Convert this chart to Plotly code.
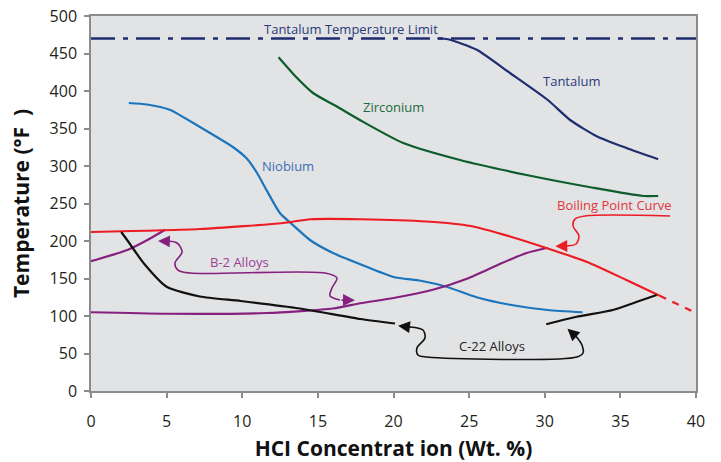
import plotly.graph_objects as go

# ---- data ----
tantalum_x = [22.9, 23.6, 25.5, 27.7, 30.2, 31.7, 33.5, 35.4, 37.5]
tantalum_y = [470, 469, 455, 424, 388, 361, 339, 324, 309]

zirconium_x = [12.4, 13.5, 14.7, 16.2, 17.8, 20.6, 24.4, 28.8, 33.2, 36.5, 37.5]
zirconium_y = [445, 420, 397, 380, 361, 331, 308, 288, 271, 260, 260]

niobium_x = [2.5, 3.7, 5.2, 7.2, 9.4, 10.3, 11.0, 11.6, 12.5, 13.2, 14.5, 16.0, 17.8, 20.0, 21.8, 23.5, 25.5, 27.7, 30.2, 32.5]
niobium_y = [384, 382, 375, 352, 325, 310, 290, 268, 237, 224, 201, 184, 169, 152, 147, 139, 125, 115, 108, 105]

boiling_x = [0, 7.2, 12.7, 14.5, 17.8, 22.2, 25.1, 27.7, 30.2, 32.8, 35.4, 37.6]
boiling_y = [212, 216, 224, 229, 229, 226, 220, 206, 190, 172, 148, 127]
boiling_ext_x = [37.6, 40.0]
boiling_ext_y = [127, 104]

c22_low_x = [2.0, 2.4, 3.5, 5.0, 7.2, 9.9, 13.8, 17.8, 20.1]
c22_low_y = [212, 201, 170, 139, 126, 120, 110, 96, 90]
c22_high_x = [30.1, 32.1, 34.5, 36.1, 37.4]
c22_high_y = [89, 99, 108, 119, 128]

b2_low_x = [0, 5.0, 11.6, 16.0, 17.8, 20.0, 22.6, 24.9, 27.1, 28.8, 30.2]
b2_low_y = [105, 103, 104, 110, 117, 124, 135, 150, 170, 184, 191]
b2_high_x = [0, 2.4, 3.7, 4.9]
b2_high_y = [173, 188, 201, 215]

ta_limit = 470

x_ticks = [0, 5, 10, 15, 20, 25, 30, 35, 40]
y_ticks = [0, 50, 100, 150, 200, 250, 300, 350, 400, 450, 500]

# connector paths for the callouts (data coordinates)
b2_path_x = [4.96, 5.69, 6.02, 5.55, 5.75, 6.55, 15.47, 16.26, 15.93, 15.80, 16.46]
b2_path_y = [200, 197.3, 185.3, 170.7, 161.3, 157.3, 157.3, 150.7, 137.3, 126.7, 121.3]
c22_path_x = [21.09, 21.95, 22.08, 21.55, 21.62, 22.21, 32.13, 32.53, 32.46, 32.0]
c22_path_y = [85.3, 81.3, 70.7, 57.3, 48, 45.3, 45.3, 50.7, 61.3, 74.7]
bp_path_x = [38.28, 32.66, 32.0, 31.87, 32.26, 32.07, 31.34]
bp_path_y = [233.3, 233.3, 229.3, 220, 206.7, 196, 193.3]

NAVY = "#1f2d6e"
GREEN = "#0d5c2c"
BLUE = "#1b75bc"
RED = "#ed1c24"
PURPLE = "#86207f"
BLACK = "#111111"

fig = go.Figure()

def line(x, y, color, width=2.2, dash=None, shape="spline", smoothing=0.6):
    fig.add_trace(go.Scatter(x=x, y=y, mode="lines",
                             line=dict(color=color, width=width, dash=dash, shape=shape, smoothing=smoothing),
                             hoverinfo="skip", showlegend=False))

# tantalum limit
line([0, 40], [ta_limit, ta_limit], NAVY, width=2.4, dash="24px,8px,5px,8px", shape="linear")
line(tantalum_x, tantalum_y, NAVY)
line(zirconium_x, zirconium_y, GREEN)
line(niobium_x, niobium_y, BLUE)
line(b2_low_x, b2_low_y, PURPLE)
line(b2_high_x, b2_high_y, PURPLE)
line(boiling_x, boiling_y, RED)
line(boiling_ext_x, boiling_ext_y, RED, dash="7px,7px", shape="linear")
line(c22_low_x, c22_low_y, BLACK)
line(c22_high_x, c22_high_y, BLACK)

# callout connectors
line(b2_path_x, b2_path_y, PURPLE, width=1.6, smoothing=0.9)
line(c22_path_x, c22_path_y, BLACK, width=1.6, smoothing=0.9)
line(bp_path_x, bp_path_y, RED, width=1.6, smoothing=0.9)

def arrow(x, y, ax, ay, color):
    fig.add_annotation(x=x, y=y, ax=ax, ay=ay, xref="x", yref="y", axref="x", ayref="y",
                       text="", showarrow=True, arrowhead=2, arrowsize=1.4, arrowwidth=1.7,
                       arrowcolor=color)

arrow(4.43, 200, 5.22, 199.5, PURPLE)
arrow(17.45, 121, 16.46, 121.3, PURPLE)
arrow(20.3, 87, 21.2, 84.8, BLACK)
arrow(31.5, 83, 32.05, 73, BLACK)
arrow(30.7, 193, 31.5, 193.3, RED)

def label(x, y, text, color, size=13):
    fig.add_annotation(x=x, y=y, xref="x", yref="y", text=text, showarrow=False,
                       font=dict(family="Open Sans", size=size, color=color))

label(17.19, 482.7, "Tantalum Temperature Limit", "#2b3a7a")
label(31.8, 413.3, "Tantalum", "#2b3a7a")
label(19.97, 378.7, "Zirconium", "#1d6b3a")
label(13.02, 300, "Niobium", "#3b6fb6")
label(34.58, 248, "Boiling Point Curve", "#e2363c")
label(9.85, 172, "B-2 Alloys", "#9b3f96")
label(26.5, 60, "C-22 Alloys", "#222222")

axis_common = dict(showgrid=False, zeroline=False, showline=True, linecolor="#8c8c8c", linewidth=1.5,
                   mirror=True, ticks="outside", ticklen=5, tickcolor="#8c8c8c", tickwidth=1.5,
                   automargin=False,
                   tickfont=dict(family="Open Sans", size=16, color="#231f20"))

fig.update_layout(
    width=721, height=462,
    margin=dict(l=91, r=25, t=16, b=71),
    paper_bgcolor="white",
    plot_bgcolor="#e2e3e5",
    xaxis=dict(range=[0, 40], tickvals=x_ticks, ticktext=[str(v) for v in x_ticks],
               ticklabelstandoff=10,
               title=dict(text="HCI Concentrat ion (Wt. %)", standoff=12,
                          font=dict(family="Open Sans", size=21, color="#111111", weight="bold")),
               **axis_common),
    yaxis=dict(range=[0, 500], tickvals=y_ticks, ticktext=[str(v) for v in y_ticks],
               ticklabelstandoff=4,
               title=dict(text="Temperature (°F  )", standoff=14,
                          font=dict(family="Open Sans", size=21, color="#111111", weight="bold")),
               **axis_common),
)

fig.write_html("out.html", config={"displayModeBar": False},
               post_script="document.body.style.margin='0px';document.body.style.overflow='hidden';")
